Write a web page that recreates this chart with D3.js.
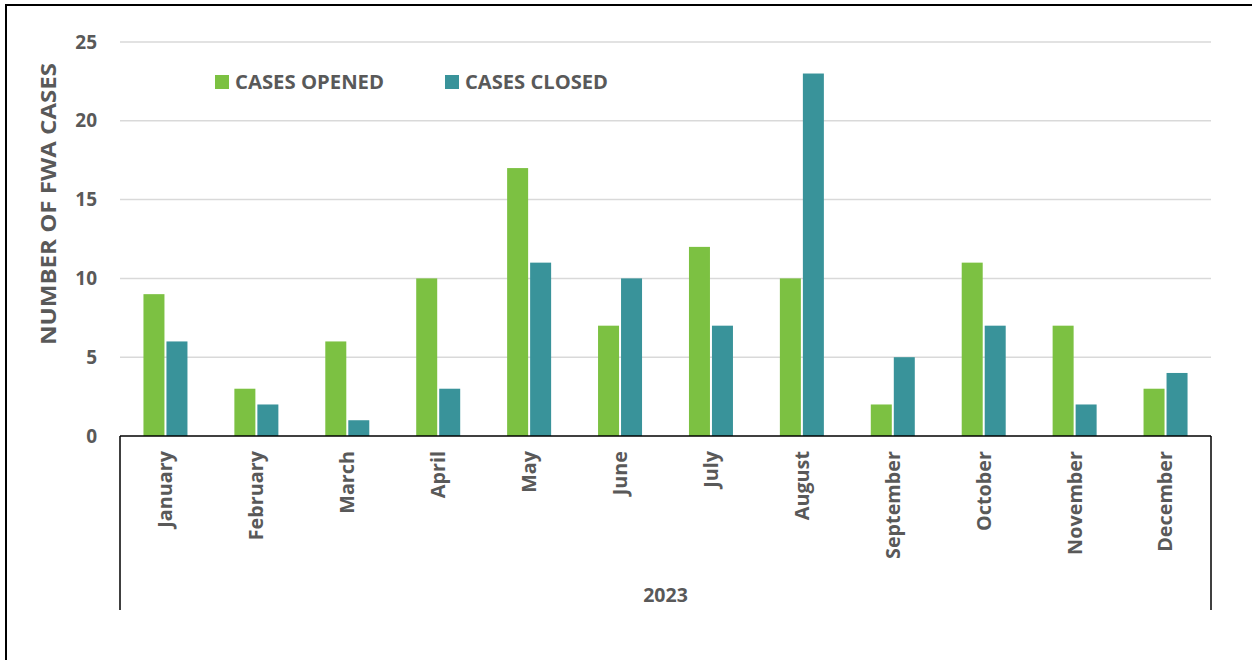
<!DOCTYPE html>
<html>
<head>
<meta charset="utf-8">
<script src="https://cdn.jsdelivr.net/npm/d3@7"></script>
<style>
  html, body { margin: 0; padding: 0; background: #fff; }
  svg { display: block; }
  text { font-family: "Open Sans", Lato, sans-serif; font-weight: 700; fill: #595959; }
</style>
</head>
<body>
<svg id="chart" width="1252" height="660"></svg>
<script>
// Monthly FWA case counts, 2023
const months = ["January", "February", "March", "April", "May", "June",
                "July", "August", "September", "October", "November", "December"];
const seriesNames = ["CASES OPENED", "CASES CLOSED"];
const casesOpened = [9, 3, 6, 10, 17, 7, 12, 10, 2, 11, 7, 3];
const casesClosed = [6, 2, 1, 3, 11, 10, 7, 23, 5, 7, 2, 4];
const yTicks = [0, 5, 10, 15, 20, 25];
const yearLabel = "2023";
const yTitle = "NUMBER OF FWA CASES";

const colors = { "CASES OPENED": "#7cc142", "CASES CLOSED": "#39939a" };
const FONT = "'Open Sans', Lato, sans-serif";

const svg = d3.select("#chart");
const plotLeft = 120, plotRight = 1211, plotTop = 42, plotBottom = 436, catBottom = 610;

// outer frame
svg.append("rect")
  .attr("x", 6).attr("y", 5).attr("width", 1260).attr("height", 670)
  .attr("fill", "none").attr("stroke", "#000").attr("stroke-width", 2);

const x0 = d3.scaleBand().domain(months).range([plotLeft, plotRight]).padding(0);
const x1 = d3.scaleBand().domain(seriesNames).range([0, x0.bandwidth()])
  .paddingInner(0.087).paddingOuter(1.02);
const y = d3.scaleLinear().domain([0, 25]).range([plotBottom, plotTop]);

// horizontal gridlines
svg.append("g").selectAll("line").data(yTicks.filter(d => d > 0)).join("line")
  .attr("x1", plotLeft).attr("x2", plotRight)
  .attr("y1", d => y(d)).attr("y2", d => y(d))
  .attr("stroke", "#d9d9d9").attr("stroke-width", 1.5);

// y axis tick labels
const yAxis = d3.axisLeft(y).tickValues(yTicks).tickSize(0).tickPadding(0);
const yg = svg.append("g").attr("transform", `translate(${plotLeft - 23},0)`).call(yAxis);
yg.select(".domain").remove();
yg.selectAll("text").attr("font-size", 19).attr("fill", "#595959")
  .style("font-family", FONT).style("font-weight", 700);

// y axis title
svg.append("text")
  .attr("transform", `translate(49,204) rotate(-90)`)
  .attr("text-anchor", "middle").attr("dy", "0.35em").attr("font-size", 20.5)
  .attr("textLength", 282).attr("lengthAdjust", "spacingAndGlyphs")
  .text(yTitle);

// bars
const rows = months.map((m, i) => ({ month: m, values: [
  { key: "CASES OPENED", value: casesOpened[i] },
  { key: "CASES CLOSED", value: casesClosed[i] }
]}));

svg.append("g").selectAll("g").data(rows).join("g")
  .attr("transform", d => `translate(${x0(d.month)},0)`)
  .selectAll("rect").data(d => d.values).join("rect")
  .attr("x", d => x1(d.key))
  .attr("width", x1.bandwidth())
  .attr("y", d => y(d.value))
  .attr("height", d => y(0) - y(d.value))
  .attr("fill", d => colors[d.key]);

// category axis lines
svg.append("line").attr("x1", plotLeft).attr("x2", plotRight).attr("y1", plotBottom).attr("y2", plotBottom)
  .attr("stroke", "#000").attr("stroke-width", 1.5);
[plotLeft, plotRight].forEach(xx => {
  svg.append("line").attr("x1", xx).attr("x2", xx).attr("y1", plotBottom).attr("y2", catBottom)
    .attr("stroke", "#000").attr("stroke-width", 1.5);
});

// month labels
const xAxis = d3.axisBottom(x0).tickSize(0).tickPadding(0);
const xg = svg.append("g").attr("transform", `translate(0,${plotBottom})`).call(xAxis);
xg.select(".domain").remove();
xg.selectAll("text")
  .attr("font-size", 19.8).attr("fill", "#595959")
  .style("font-family", FONT).style("font-weight", 700)
  .attr("text-anchor", "end").attr("dy", "0.35em")
  .attr("transform", "translate(0,15) rotate(-90)")
  .attr("x", 0).attr("y", 0);

// year label
svg.append("text").attr("x", (plotLeft + plotRight) / 2).attr("y", 602)
  .attr("text-anchor", "middle").attr("font-size", 19.5).text(yearLabel);

// legend
const legendX = [215, 445];
const legendW = [149, 143];
const lg = svg.append("g").selectAll("g").data(seriesNames).join("g")
  .attr("transform", (d, i) => `translate(${legendX[i]},75)`);
lg.append("rect").attr("width", 14).attr("height", 14).attr("fill", d => colors[d]);
lg.append("text").attr("x", 20).attr("y", 7).attr("dy", "0.35em")
  .attr("font-size", 19.5)
  .attr("textLength", (d, i) => legendW[i]).attr("lengthAdjust", "spacingAndGlyphs")
  .text(d => d);
</script>
</body>
</html>
